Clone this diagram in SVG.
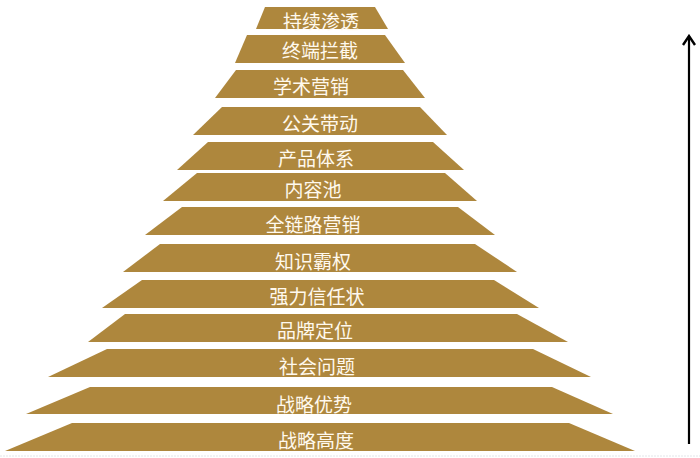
<svg xmlns="http://www.w3.org/2000/svg" width="700" height="458" viewBox="0 0 700 458">
  <style>
    .layer { fill: #AE873D; }
    .lbl { font-family: "Noto Sans CJK SC", "Noto Sans", sans-serif; font-size: 19px; fill: #FFF9EE; text-anchor: middle; dominant-baseline: central; }
    .conn { stroke: #000; stroke-width: 2.2; fill: none; }
  </style>
  <defs>
    <marker id="chev" markerWidth="12" markerHeight="14" refX="10" refY="7" orient="auto" markerUnits="userSpaceOnUse" viewBox="0 0 12 14">
      <path d="M1,1 L10,7 L1,13" fill="none" stroke="#000" stroke-width="2.4" stroke-linejoin="miter"/>
    </marker>
  </defs>
  <rect x="0" y="0" width="700" height="458" fill="#FFFFFF"/>
  <line x1="0" y1="456" x2="700" y2="456" stroke="#E4E6EA" stroke-width="1.2" stroke-dasharray="2 1"/>

  <g id="layer1"><polygon class="layer" points="265,7 375,7 388,29 256,29"/><text class="lbl" x="321" y="20">持续渗透</text></g>
  <g id="layer2"><polygon class="layer" points="247,35 385,35 405,63 235,63"/><text class="lbl" x="320" y="49">终端拦截</text></g>
  <g id="layer3"><polygon class="layer" points="236,70 403,70 425,98 215,98"/><text class="lbl" x="311" y="85">学术营销</text></g>
  <g id="layer4"><polygon class="layer" points="222,107 420,107 447,135 193,135"/><text class="lbl" x="320" y="122">公关带动</text></g>
  <g id="layer5"><polygon class="layer" points="208,142 433,142 464,170 177,170"/><text class="lbl" x="316" y="157">产品体系</text></g>
  <g id="layer6"><polygon class="layer" points="197,173 445,173 477,201 163,201"/><text class="lbl" x="313" y="188">内容池</text></g>
  <g id="layer7"><polygon class="layer" points="182,207 458,207 495,235 145,235"/><text class="lbl" x="313" y="223">全链路营销</text></g>
  <g id="layer8"><polygon class="layer" points="160,244 475,244 517,272 123,272"/><text class="lbl" x="313" y="260">知识霸权</text></g>
  <g id="layer9"><polygon class="layer" points="142,280 494,280 539,308 102,308"/><text class="lbl" x="317" y="295">强力信任状</text></g>
  <g id="layer10"><polygon class="layer" points="125,314 517,314 568,342 88,342"/><text class="lbl" x="315" y="329">品牌定位</text></g>
  <g id="layer11"><polygon class="layer" points="107,349 533,349 591,377 48,377"/><text class="lbl" x="317" y="365">社会问题</text></g>
  <g id="layer12"><polygon class="layer" points="90,387 552,387 613,414 26,414"/><text class="lbl" x="314" y="403">战略优势</text></g>
  <g id="layer13"><polygon class="layer" points="72,423 569,423 635,451 5,451"/><text class="lbl" x="316" y="439">战略高度</text></g>

  <g id="connectors">
    <line class="conn" x1="689" y1="444" x2="689" y2="36" marker-end="url(#chev)"/>
  </g>
</svg>
